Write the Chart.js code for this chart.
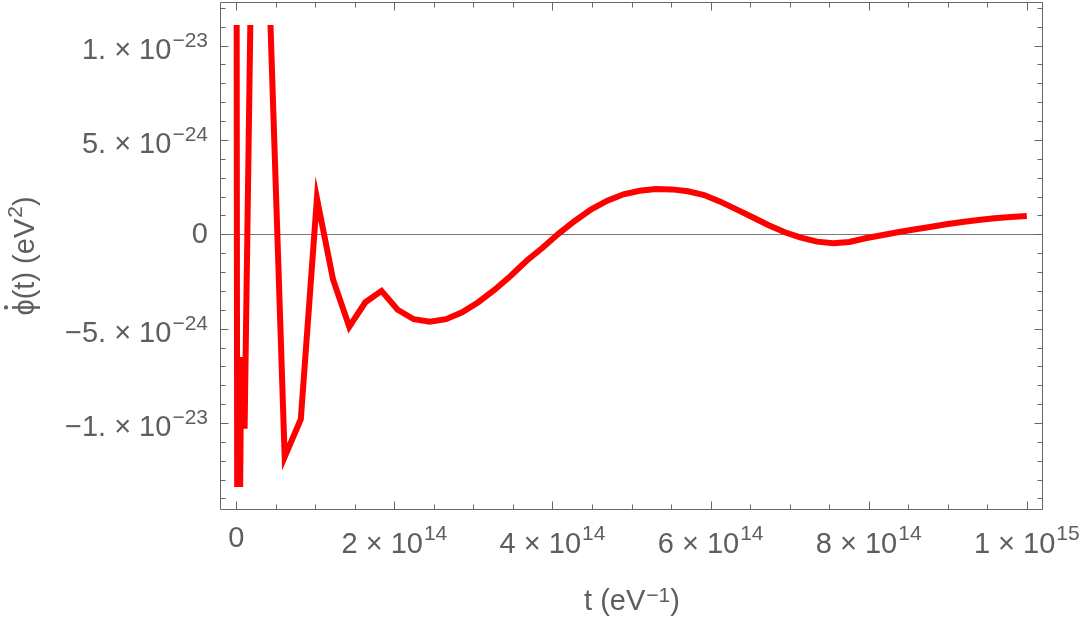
<!DOCTYPE html>
<html><head><meta charset="utf-8">
<script src="https://cdn.jsdelivr.net/npm/chart.js@4/dist/chart.umd.min.js"></script>
<style>html,body{margin:0;padding:0;background:#fff;overflow:hidden;}</style>
</head><body>
<canvas id="c" width="1080" height="619"></canvas>
<script>
// ---- data (t in units of 1e14 eV^-1, phi-dot in units of 1e-24 eV^2) ----
const T_UNIT = 1e14;
const PHI_UNIT = 1e-24;
const tValues = [0, 0.015, 0.063, 0.105, 0.204, 0.408, 0.612, 0.816, 1.02, 1.224, 1.429, 1.633, 1.837, 2.041,
  2.245, 2.449, 2.653, 2.857, 3.061, 3.265, 3.469, 3.673, 3.878, 4.082, 4.286, 4.49, 4.694, 4.898,
  5.102, 5.306, 5.51, 5.714, 5.918, 6.122, 6.327, 6.531, 6.735, 6.939, 7.143, 7.347, 7.551, 7.755,
  7.959, 8.163, 8.367, 8.571, 8.776, 8.98, 9.184, 9.388, 9.592, 9.796, 10.0];
const phiDotValues = [30, -30, -6.5, -10.3, 19, 14.2, -11.8, -9.8, 1.9, -2.4, -4.9, -3.6, -3.0, -4.0,
  -4.5, -4.63, -4.5, -4.13, -3.6, -2.95, -2.21, -1.40, -0.7, 0.05, 0.72, 1.32, 1.78, 2.12,
  2.31, 2.40, 2.38, 2.28, 2.08, 1.73, 1.32, 0.90, 0.48, 0.11, -0.18, -0.39, -0.48, -0.41,
  -0.21, -0.05, 0.11, 0.25, 0.39, 0.53, 0.65, 0.76, 0.85, 0.92, 0.97];

const xMajorTicks = [0, 2e14, 4e14, 6e14, 8e14, 1e15];
const xTickLabels = ['0', '2 × 10^{14}', '4 × 10^{14}', '6 × 10^{14}', '8 × 10^{14}', '1 × 10^{15}'];
const yMajorTicks = [-1e-23, -5e-24, 0, 5e-24, 1e-23];
const yTickLabels = ['−1. × 10^{−23}', '−5. × 10^{−24}', '0', '5. × 10^{−24}', '1. × 10^{−23}'];
const xTitle = 't (eV^{−1})';
const yTitle = '\u03D5\u0307(t) (eV^{2})';

// ---- styling ----
const BASE_FONT = '29px "Liberation Sans", Arial, sans-serif';
const SUP_FONT = '21px "Liberation Sans", Arial, sans-serif';
const TEXT_COLOR = '#5e5e5e';
const FRAME_COLOR = '#666666';
const DOT_MARK = '\u0307';

const points = tValues.map((t, i) => ({ x: t * T_UNIT, y: phiDotValues[i] * PHI_UNIT }));

function parseRich(s) {
  const segs = []; const re = /\^\{([^}]*)\}/g; let last = 0, m;
  while ((m = re.exec(s))) {
    if (m.index > last) segs.push({ t: s.slice(last, m.index), sup: false });
    segs.push({ t: m[1], sup: true }); last = re.lastIndex;
  }
  if (last < s.length) segs.push({ t: s.slice(last), sup: false });
  return segs;
}
// draws text; a combining dot (U+0307) is drawn as a dot centred over the preceding glyph
function drawPlain(ctx, t, x, y, measureOnly) {
  const pieces = t.split(DOT_MARK); let cx = x;
  pieces.forEach((p, i) => {
    const w = ctx.measureText(p).width;
    if (!measureOnly) ctx.fillText(p, cx, y);
    if (i < pieces.length - 1 && p.length && !measureOnly) {
      const lw = ctx.measureText(p.slice(-1)).width;
      ctx.beginPath(); ctx.arc(cx + w - lw / 2, y - 28, 2.1, 0, Math.PI * 2); ctx.fill();
    }
    cx += w;
  });
  return cx - x;
}
function drawRich(ctx, s, x, y, align, rise) {
  const segs = parseRich(s); let w = 0;
  segs.forEach(g => { ctx.font = g.sup ? SUP_FONT : BASE_FONT; g.w = drawPlain(ctx, g.t, 0, 0, true) + (g.sup ? 1 : 0); w += g.w; });
  let cx = align === 'center' ? x - w / 2 : align === 'right' ? x - w : x;
  ctx.textAlign = 'left'; ctx.textBaseline = 'alphabetic';
  segs.forEach(g => {
    ctx.font = g.sup ? SUP_FONT : BASE_FONT;
    drawPlain(ctx, g.t, cx + (g.sup ? 1 : 0), g.sup ? y - rise : y, false);
    cx += g.w;
  });
}

const framePlugin = {
  id: 'mmaFrame',
  beforeDatasetsDraw(chart) {
    const { ctx, chartArea: a, scales: { y } } = chart;
    const py = Math.round(y.getPixelForValue(0)) + 0.5;
    ctx.save(); ctx.strokeStyle = '#7a7a7a'; ctx.lineWidth = 1;
    ctx.beginPath(); ctx.moveTo(a.left, py); ctx.lineTo(a.right, py); ctx.stroke();
    ctx.restore();
  },
  afterDraw(chart) {
    const { ctx, chartArea: a, scales: { x, y } } = chart;
    ctx.save();
    ctx.strokeStyle = FRAME_COLOR; ctx.lineWidth = 1;
    const L = a.left - 0.5, R = a.right - 0.5, T = a.top + 0.5, B = a.bottom - 0.5;
    ctx.beginPath();
    ctx.moveTo(L, T); ctx.lineTo(R, T); ctx.lineTo(R, B); ctx.lineTo(L, B); ctx.closePath();
    const xTick = (v, len) => { const p = Math.round(x.getPixelForValue(v)) + 0.5;
      ctx.moveTo(p, B); ctx.lineTo(p, B - len); ctx.moveTo(p, T); ctx.lineTo(p, T + len); };
    const yTick = (v, len) => { const p = Math.round(y.getPixelForValue(v)) + 0.5;
      ctx.moveTo(L, p); ctx.lineTo(L + len, p); ctx.moveTo(R, p); ctx.lineTo(R - len, p); };
    for (let k = 0; k * 0.5e14 <= x.max; k++) { const v = k * 0.5e14; xTick(v, k % 4 === 0 ? 8 : 5); }
    for (let k = -14; k <= 12; k++) { const v = k * 1e-24; if (v < y.min || v > y.max) continue; yTick(v, k % 5 === 0 ? 8 : 5); }
    ctx.stroke();

    ctx.fillStyle = TEXT_COLOR;
    xMajorTicks.forEach((v, i) => {
      const px = x.getPixelForValue(v);
      const lab = xTickLabels[i];
      const hasSup = lab.includes('^{');
      drawRich(ctx, lab, px, hasSup ? a.bottom + 43 : a.bottom + 37, 'center', 13);
    });
    yMajorTicks.forEach((v, i) => {
      const py = y.getPixelForValue(v);
      const lab = yTickLabels[i];
      const hasSup = lab.includes('^{');
      drawRich(ctx, lab, a.left - 13, hasSup ? py + 13 : py + 9, 'right', 12);
    });
    drawRich(ctx, xTitle, (a.left + a.right) / 2, 610, 'center', 8.5);
    ctx.translate(34, (a.top + a.bottom) / 2);
    ctx.rotate(-Math.PI / 2);
    drawRich(ctx, yTitle, 0, 0, 'center', 12);
    ctx.restore();
  }
};

new Chart(document.getElementById('c'), {
  type: 'scatter',
  data: { datasets: [{
    data: points,
    showLine: true,
    borderColor: '#ff0000',
    borderWidth: 6,
    pointRadius: 0,
    pointHoverRadius: 0,
    fill: false,
    tension: 0,
    borderJoinStyle: 'miter',
    borderCapStyle: 'butt',
    clip: { left: 10, top: -23, right: 10, bottom: -23 }
  }] },
  options: {
    responsive: false,
    animation: false,
    devicePixelRatio: 1,
    layout: { padding: { left: 221, top: 2, right: 37, bottom: 109 } },
    plugins: { legend: { display: false }, tooltip: { enabled: false } },
    scales: {
      x: { type: 'linear', min: -1.935e13, max: 1.0205e15,
        grid: { display: false }, border: { display: false }, ticks: { display: false },
        afterBuildTicks: s => { s.ticks = xMajorTicks.map(v => ({ value: v })); },
        afterFit: s => { s.height = 0; } },
      y: { type: 'linear', min: -1.461e-23, max: 1.231e-23,
        grid: { display: false }, border: { display: false }, ticks: { display: false },
        afterBuildTicks: s => { s.ticks = yMajorTicks.map(v => ({ value: v })); },
        afterFit: s => { s.width = 0; } }
    }
  },
  plugins: [framePlugin]
});
</script>
</body></html>
